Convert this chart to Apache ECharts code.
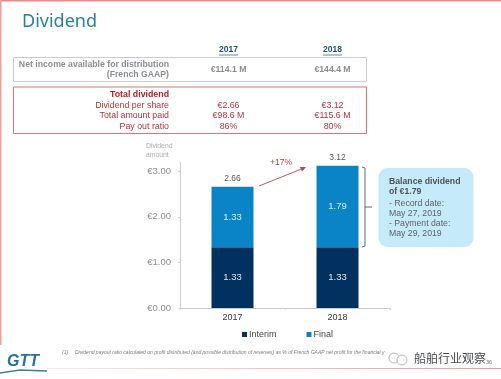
<!DOCTYPE html>
<html><head><meta charset="utf-8">
<style>html,body{margin:0;padding:0;background:#fff}#c{width:501px;height:379px}</style>
<script src="https://cdn.jsdelivr.net/npm/echarts@6/dist/echarts.min.js"></script>
</head><body><div id="c"></div>
<script>
const categories = ['2017', '2018'];
const interim = [1.33, 1.33];
const finalDiv = [1.33, 1.79];
const totals = [2.66, 3.12];
const yTicks = [0, 1, 2, 3];
const tableYears = ['2017', '2018'];
const netIncome = ['€114.1 M', '€144.4 M'];
const perShare = ['€2.66', '€3.12'];
const amountPaid = ['€98.6 M', '€115.6 M'];
const payout = ['86%', '80%'];

const F = 'Liberation Sans, Arial, sans-serif';
const txt = (x, y, text, size, fill, align, weight, extra) => ({
  type: 'text', x, y, silent: true,
  style: Object.assign({ text, font: (weight || 'normal') + ' ' + size + 'px ' + F, fill, align: align || 'left', verticalAlign: 'middle' }, extra || {})
});
const box = (x, y, w, h, stroke, lw) => ({ type: 'rect', shape: { x, y, width: w, height: h }, silent: true, style: { fill: 'none', stroke, lineWidth: lw } });
const line = (x1, y1, x2, y2, stroke, lw) => ({ type: 'line', shape: { x1, y1, x2, y2 }, silent: true, style: { stroke, lineWidth: lw } });
const grey = '#8a8d92', red = '#b5323a';
const c1 = 228.5, c2 = 332.5;

const graphic = [
  { type: 'rect', shape: { x: 0, y: 0, width: 501, height: 1.5 }, style: { fill: '#e88a8a' }, silent: true },
  { type: 'rect', shape: { x: 0, y: 0, width: 1.5, height: 345 }, style: { fill: '#eda0a0' }, silent: true },
  { type: 'text', x: 22, y: 21.5, silent: true, style: { text: 'Dividend', font: '18px "Noto Sans", ' + F, fill: '#2a7ea3', verticalAlign: 'middle' } },
  txt(c1, 50, tableYears[0], 8.5, '#1f4e79', 'center', 'bold'),
  txt(c2, 50, tableYears[1], 8.5, '#1f4e79', 'center', 'bold'),
  line(219, 55, 238, 55, '#1f4e79', 0.7),
  line(323, 55, 342, 55, '#1f4e79', 0.7),
  box(13.5, 57.5, 353, 24, '#c6ced3', 1),
  txt(169, 64.5, 'Net income available for distribution', 8.7, grey, 'right', 'bold'),
  txt(169, 75, '(French GAAP)', 8.7, grey, 'right', 'bold'),
  txt(c1, 70, netIncome[0], 8.7, grey, 'center', 'bold'),
  txt(c2, 70, netIncome[1], 8.7, grey, 'center', 'bold'),
  box(13.5, 87, 353, 46.5, '#d8737b', 1),
  txt(169, 95, 'Total dividend', 8.8, '#b3202a', 'right', 'bold'),
  txt(169, 105.5, 'Dividend per share', 8.8, red, 'right'),
  txt(169, 116, 'Total amount paid', 8.8, red, 'right'),
  txt(169, 126.5, 'Pay out ratio', 8.8, red, 'right'),
  txt(c1, 105.5, perShare[0], 8.8, red, 'center'),
  txt(c2, 105.5, perShare[1], 8.8, red, 'center'),
  txt(c1, 116, amountPaid[0], 8.8, red, 'center'),
  txt(c2, 116, amountPaid[1], 8.8, red, 'center'),
  txt(c1, 126.5, payout[0], 8.8, red, 'center'),
  txt(c2, 126.5, payout[1], 8.8, red, 'center'),
  txt(146, 146.5, 'Dividend', 6.8, '#a9acb0'),
  txt(146, 155, 'amount', 6.8, '#a9acb0'),
  // growth arrow
  line(259, 186, 304, 168, '#b8474d', 0.9),
  { type: 'polygon', shape: { points: [[306, 167], [300, 167], [302, 171.5]] }, style: { fill: '#b8474d' }, silent: true },
  txt(281, 163, '+17%', 8.5, '#c0393f', 'center'),
  // bracket
  { type: 'polyline', shape: { points: [[362, 167], [365, 168], [365, 246], [362, 247]] }, style: { fill: 'none', stroke: '#55585c', lineWidth: 0.9 }, silent: true },
  line(365, 207, 372, 207, '#55585c', 0.9),
  // callout
  { type: 'rect', shape: { x: 378.5, y: 168, width: 95, height: 79, r: 9 }, style: { fill: '#c5eafa' }, silent: true },
  txt(389, 181.5, 'Balance dividend', 8.7, '#4d5358', 'left', 'bold'),
  txt(389, 192, 'of €1.79', 8.7, '#4d5358', 'left', 'bold'),
  txt(389, 203.5, '- Record date:', 8.7, '#5d6368'),
  txt(389, 213.5, 'May 27, 2019', 8.7, '#5d6368'),
  txt(389, 224, '- Payment date:', 8.7, '#5d6368'),
  txt(389, 234, 'May 29, 2019', 8.7, '#5d6368'),
  // footnote
  txt(62, 353, '(1)', 5, '#777a7e', 'left', 'italic'),
  txt(75, 353, 'Dividend payout ratio calculated on profit distributed (and possible distribution of reserves) as % of French GAAP net profit for the financial y', 5, '#777a7e', 'left', 'italic'),
  // logo
  { type: 'text', x: 7, y: 362, silent: true, style: { text: 'GTT', font: 'italic bold 16px ' + F, fill: '#2a6f9e', verticalAlign: 'middle' } },
  { type: 'polyline', shape: { points: [[0, 373], [20, 370], [47, 371]] }, style: { fill: 'none', stroke: '#3d7fa6', lineWidth: 1.6 }, silent: true },
  { type: 'rect', shape: { x: 48, y: 368, width: 453, height: 1 }, silent: true,
    style: { fill: new echarts.graphic.LinearGradient(0, 0, 1, 0, [{ offset: 0, color: '#fbe6e6' }, { offset: 1, color: '#ee9a9a' }]) } },
  // watermark
  { type: 'circle', shape: { cx: 394, cy: 358, r: 5 }, style: { fill: 'none', stroke: '#b5b8ba', lineWidth: 1 }, silent: true },
  { type: 'circle', shape: { cx: 402, cy: 360, r: 5 }, style: { fill: '#fff', stroke: '#b5b8ba', lineWidth: 1 }, silent: true },
  { type: 'text', x: 414, y: 358, silent: true, style: { text: '船舶行业观察', font: '12px "Noto Sans CJK SC"', fill: '#4a4d50', verticalAlign: 'middle' } },
  txt(486, 362.5, '36', 5.5, '#6b6e72')
];

const chart = echarts.init(document.getElementById('c'), null, { renderer: 'canvas' });
chart.setOption({
  animation: false,
  backgroundColor: '#fff',
  textStyle: { fontFamily: F },
  graphic,
  grid: { left: 180, top: 162, width: 210, height: 146, containLabel: false },
  legend: {
    left: 237, top: 325, itemWidth: 5, itemHeight: 5, itemGap: 30, icon: 'rect', selectedMode: false,
    data: ['Interim', 'Final'],
    textStyle: { fontSize: 9, color: '#44474b', padding: [0, 0, 0, -3] }
  },
  xAxis: {
    type: 'category', data: categories,
    axisLine: { lineStyle: { color: '#c9cacc', width: 1 } },
    axisTick: { show: true, alignWithLabel: false, length: 2, lineStyle: { color: '#d5d6d8' } },
    axisLabel: { fontSize: 9, fontWeight: 500, color: '#333639', margin: 5 }
  },
  yAxis: {
    type: 'value', min: 0, max: 3.2, interval: 1,
    axisLine: { show: true, lineStyle: { color: '#cfd0d2', width: 1 } },
    axisTick: { show: true, length: 2, customValues: yTicks, lineStyle: { color: '#d5d6d8' } },
    splitLine: { show: false },
    axisLabel: { customValues: yTicks, fontSize: 9.5, color: '#8b8e92', margin: 9, formatter: v => '€' + v.toFixed(2) }
  },
  series: [
    { name: 'Interim', type: 'bar', stack: 'd', data: interim, barWidth: 42, itemStyle: { color: '#02305f' },
      label: { show: true, position: 'inside', color: '#d8e6f0', fontSize: 9.5, formatter: p => p.value.toFixed(2) } },
    { name: 'Final', type: 'bar', stack: 'd', data: finalDiv, barWidth: 42, itemStyle: { color: '#0a84c6' },
      label: { show: true, position: 'inside', color: '#d8eefa', fontSize: 9.5, formatter: p => p.value.toFixed(2) } },
    { name: 'Total', type: 'line', data: totals, symbol: 'circle', symbolSize: 1, showSymbol: true, itemStyle: { color: 'transparent' }, lineStyle: { width: 0, color: 'transparent' },
      label: { show: true, position: 'top', distance: 3, color: '#55585c', fontSize: 8.5, formatter: p => p.value.toFixed(2) } }
  ]
});
</script></body></html>
